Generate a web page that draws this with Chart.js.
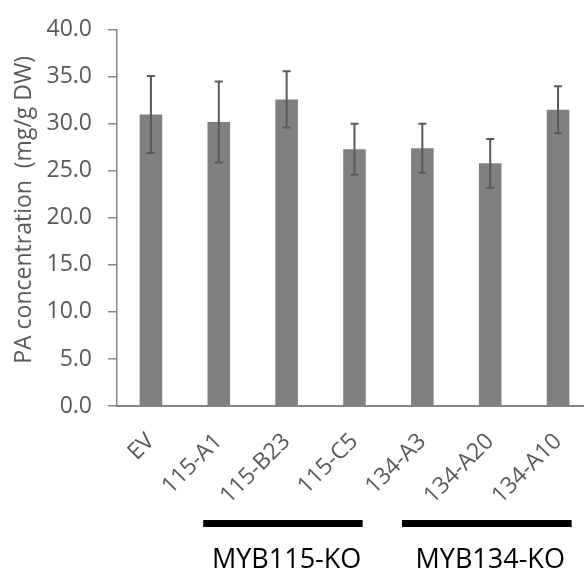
<!DOCTYPE html>
<html>
<head>
<meta charset="utf-8">
<script src="https://cdn.jsdelivr.net/npm/chart.js@4/dist/chart.umd.min.js"></script>
<style>
  html, body { margin: 0; padding: 0; background: #fff; overflow: hidden; }
  #wrap { position: absolute; left: 0; top: 0; width: 600px; height: 569px; }
</style>
</head>
<body>
<div id="wrap"><canvas id="paChart" width="600" height="569"></canvas></div>
<script>
// PA content per line, mean and error
const lines = ['EV', '115-A1', '115-B23', '115-C5', '134-A3', '134-A20', '134-A10'];
const paMean = [31.0, 30.2, 32.6, 27.3, 27.4, 25.8, 31.5];
const paErr = [4.1, 4.3, 3.0, 2.7, 2.6, 2.6, 2.5];

// knock-out groups, spans given in category units
const groupLabels = ['MYB115-KO', 'MYB134-KO'];
const groupSpans = [[0.77, 3.12], [3.70, 6.20]];
const groupCentres = [2, 5];

const yTitle = 'PA concentration  (mg/g DW)';

const axisGrey = '#868686';
const textGrey = '#595959';
const fontFamily = '"Open Sans", sans-serif';

const errorBars = {
    id: 'errorBars',
    afterDatasetsDraw(chart) {
        const ctx = chart.ctx;
        const y = chart.scales.y;
        const meta = chart.getDatasetMeta(0);
        ctx.save();
        ctx.strokeStyle = '#595959';
        ctx.lineWidth = 2;
        meta.data.forEach((bar, i) => {
            const top = y.getPixelForValue(paMean[i] + paErr[i]);
            const bot = y.getPixelForValue(paMean[i] - paErr[i]);
            ctx.beginPath();
            ctx.moveTo(bar.x, top);
            ctx.lineTo(bar.x, bot);
            ctx.moveTo(bar.x - 4, top);
            ctx.lineTo(bar.x + 4, top);
            ctx.moveTo(bar.x - 4, bot);
            ctx.lineTo(bar.x + 4, bot);
            ctx.stroke();
        });
        ctx.restore();
    }
};

// y title sits a little above the plot centre, so it is drawn here
const axisTitle = {
    id: 'axisTitle',
    afterDraw(chart) {
        const ctx = chart.ctx;
        const area = chart.chartArea;
        ctx.save();
        ctx.translate(24, (area.top + area.bottom) / 2 - 8);
        ctx.rotate(-Math.PI / 2);
        ctx.fillStyle = textGrey;
        ctx.font = '23px ' + fontFamily;
        ctx.textAlign = 'center';
        ctx.textBaseline = 'middle';
        ctx.fillText(yTitle, 0, 0);
        ctx.restore();
    }
};

const groupMarks = {
    id: 'groupMarks',
    afterDraw(chart) {
        const ctx = chart.ctx;
        const x = chart.scales.x;
        ctx.save();
        ctx.fillStyle = '#000';
        ctx.font = '27px ' + fontFamily;
        ctx.textAlign = 'center';
        ctx.textBaseline = 'alphabetic';
        groupLabels.forEach((label, i) => {
            const x1 = x.getPixelForValue(groupSpans[i][0]);
            const x2 = x.getPixelForValue(groupSpans[i][1]);
            ctx.fillRect(x1, 520, x2 - x1, 7);
            ctx.fillText(label, x.getPixelForValue(groupCentres[i]), 568);
        });
        ctx.restore();
    }
};

new Chart(document.getElementById('paChart'), {
    type: 'bar',
    data: {
        labels: lines,
        datasets: [{
            data: paMean,
            backgroundColor: '#808080',
            borderWidth: 0,
            categoryPercentage: 1,
            barPercentage: 0.333
        }]
    },
    options: {
        responsive: false,
        animation: false,
        devicePixelRatio: 1,
        layout: { padding: { top: 24, right: 6, left: 0, bottom: 0 } },
        plugins: {
            legend: { display: false },
            tooltip: { enabled: false }
        },
        scales: {
            x: {
                grid: { display: true, drawOnChartArea: false, drawTicks: false },
                border: { display: true, color: axisGrey, width: 2 },
                ticks: {
                    autoSkip: false,
                    minRotation: 45,
                    maxRotation: 45,
                    padding: 22,
                    color: textGrey,
                    font: { family: fontFamily, size: 23 }
                },
                afterFit(scale) { scale.height = 163; }
            },
            y: {
                min: 0,
                max: 40,
                grid: { display: true, drawOnChartArea: false, drawTicks: true, tickLength: 9, color: axisGrey, lineWidth: 1.5 },
                border: { display: true, color: axisGrey, width: 1.5 },
                ticks: {
                    stepSize: 5,
                    padding: 16,
                    color: textGrey,
                    font: { family: fontFamily, size: 23 },
                    callback: v => v.toFixed(1)
                },
                afterFit(scale) { scale.width = 117; }
            }
        }
    },
    plugins: [errorBars, axisTitle, groupMarks]
});
</script>
</body>
</html>
